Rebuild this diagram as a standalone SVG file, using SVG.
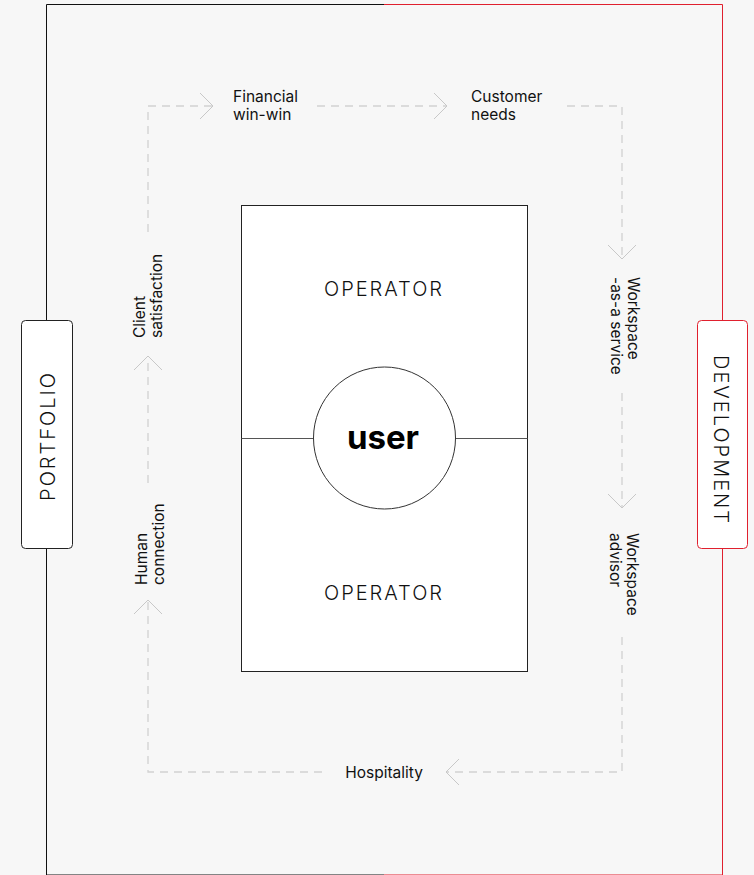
<svg xmlns="http://www.w3.org/2000/svg" width="754" height="875" viewBox="0 0 754 875">
  <defs>
    <style>
      .lbl { font-family: Inter, "Liberation Sans", sans-serif; font-size: 15.5px; fill: #111; }
      .cap { font-family: Inter, "Liberation Sans", sans-serif; font-size: 20px; font-weight: 300; fill: #111; letter-spacing: 2px; }
      .flow { fill: none; stroke: #d2d2d2; stroke-width: 1.3; stroke-dasharray: 8 6; }
      .chev { fill: none; stroke: #c8c8c8; stroke-width: 1; }
      .edge { fill: none; stroke-width: 1; }
    </style>
  </defs>

  <rect x="0" y="0" width="754" height="875" fill="#f7f7f7"/>

  <!-- outer frame: portfolio side (black) and development side (red) -->
  <g id="frame">
    <path class="edge" stroke="#111" d="M384 4.5 H46.5 V875 H384"/>
    <path class="edge" stroke="#e0202e" d="M384 4.5 H722.5 V875 H384"/>
  </g>

  <!-- dashed flow loop with open chevrons -->
  <g id="connectors">
    <path class="flow" d="M148 232 V106 H213"/>
    <path class="flow" d="M317 106 H447"/>
    <path class="flow" d="M567 106 H622 V259"/>
    <path class="flow" d="M622 393 V508"/>
    <path class="flow" d="M622 637 V772 H446"/>
    <path class="flow" d="M322 772 H148 V600"/>
    <path class="flow" d="M148 483 V356"/>
    <path class="chev" d="M200 93 L213 106 L200 119"/>
    <path class="chev" d="M434 93 L447 106 L434 119"/>
    <path class="chev" d="M608 245 L622 259 L636 245"/>
    <path class="chev" d="M608 494 L622 508 L636 494"/>
    <path class="chev" d="M459 759 L446 772 L459 785"/>
    <path class="chev" d="M134 614 L148 600 L162 614"/>
    <path class="chev" d="M134 370 L148 356 L162 370"/>
  </g>

  <g id="portfolio">
    <rect x="21.5" y="320.5" width="51" height="228" rx="4" fill="#fff" stroke="#222" stroke-width="1"/>
    <text class="cap" transform="translate(55 436) rotate(-90)" text-anchor="middle">PORTFOLIO</text>
  </g>

  <g id="development">
    <rect x="697.5" y="320.5" width="50" height="228" rx="4" fill="#fff" stroke="#e0202e" stroke-width="1"/>
    <text class="cap" transform="translate(714 440) rotate(90)" text-anchor="middle" letter-spacing="2.7">DEVELOPMENT</text>
  </g>

  <g id="operator">
    <rect x="241.5" y="205.5" width="286" height="466" fill="#fff" stroke="#222" stroke-width="1"/>
    <line x1="241.5" y1="438.5" x2="313" y2="438.5" stroke="#555" stroke-width="1"/>
    <line x1="455" y1="438.5" x2="527.5" y2="438.5" stroke="#555" stroke-width="1"/>
    <text class="cap" x="384" y="296" text-anchor="middle">OPERATOR</text>
    <text class="cap" x="384" y="600" text-anchor="middle">OPERATOR</text>
  </g>

  <g id="user">
    <circle cx="384.5" cy="438" r="71" fill="#fff" stroke="#333" stroke-width="1"/>
    <text x="383" y="449" text-anchor="middle" font-family="Inter, 'Liberation Sans', sans-serif" font-size="33" font-weight="700" fill="#000">user</text>
  </g>

  <g id="financial">
    <text class="lbl" x="233" y="101.5">Financial</text>
    <text class="lbl" x="233" y="119.5">win-win</text>
  </g>
  <g id="customer">
    <text class="lbl" x="471" y="101.5">Customer</text>
    <text class="lbl" x="471" y="119.5">needs</text>
  </g>
  <g id="waas">
    <text class="lbl" transform="translate(628 277) rotate(90)">Workspace<tspan x="0" dy="17">-as-a service</tspan></text>
  </g>
  <g id="advisor">
    <text class="lbl" transform="translate(627 533) rotate(90)">Workspace<tspan x="0" dy="17">advisor</tspan></text>
  </g>
  <g id="hospitality">
    <text class="lbl" x="384" y="778" text-anchor="middle">Hospitality</text>
  </g>
  <g id="human">
    <text class="lbl" transform="translate(146.5 585) rotate(-90)">Human<tspan x="0" dy="17">connection</tspan></text>
  </g>
  <g id="client">
    <text class="lbl" transform="translate(145 338) rotate(-90)">Client<tspan x="0" dy="17">satisfaction</tspan></text>
  </g>
</svg>
